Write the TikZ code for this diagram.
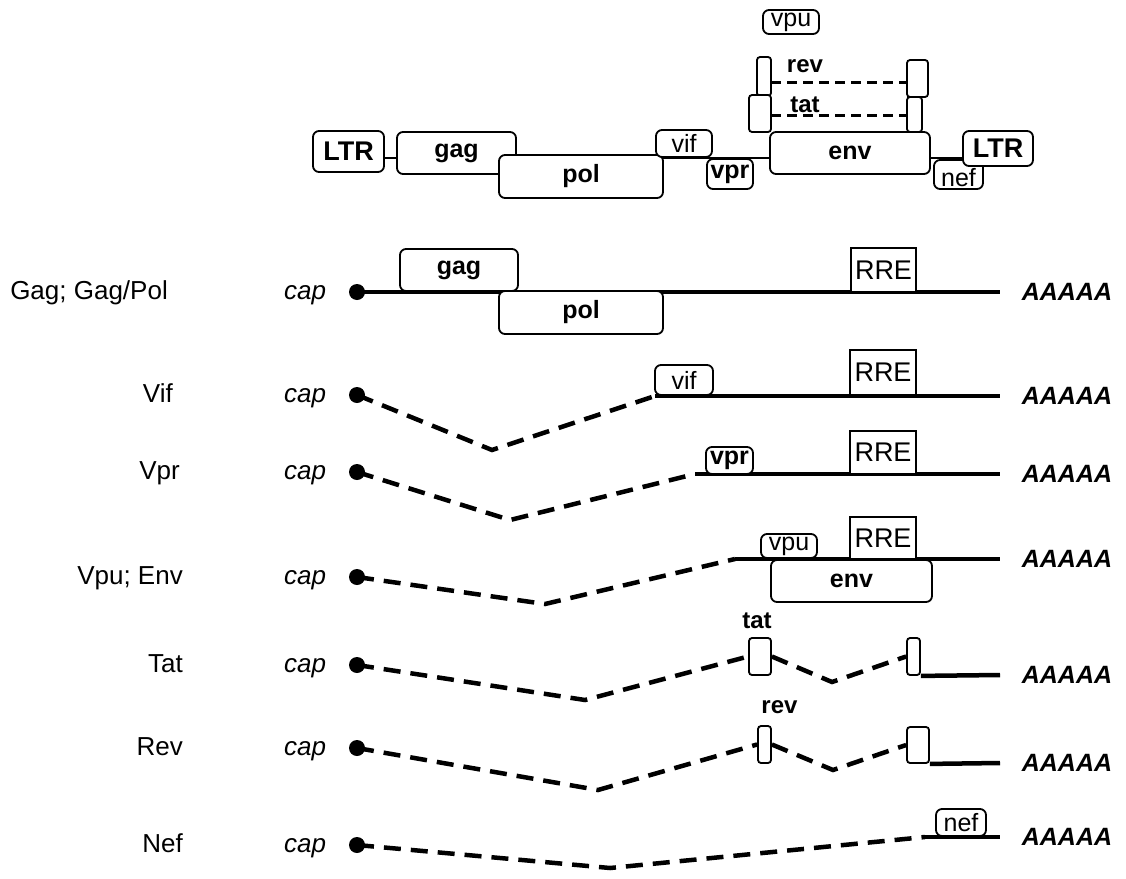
\documentclass[tikz,border=0pt]{standalone}
\usepackage{fontspec}
\setmainfont{Liberation Sans}
\usetikzlibrary{positioning}

\newcommand{\txtB}{\fontsize{25}{28}\selectfont\bfseries}
\newcommand{\txtR}{\fontsize{25}{28}\selectfont}
\newcommand{\txtLTR}{\fontsize{27}{30}\selectfont\bfseries}
\newcommand{\txtRRE}{\fontsize{27}{30}\selectfont}

% #1: extra options, #2: name, #3-#6: x1, y1, x2, y2 (pixels), #7: text
\newcommand{\genebox}[7][]{%
  \node[gene, #1, minimum width={(#5-#3)*1pt}, minimum height={(#6-#4)*1pt}]
    (#2) at ({(#3+#5)/2},{(#4+#6)/2}) {#7};}

\begin{document}
\begin{tikzpicture}[x=1pt, y=-1pt,
    gene/.style={draw, fill=white, rounded corners=6pt, line width=1.8pt, inner sep=0pt},
    exon/.style={rounded corners=3pt},
    backbone/.style={line width=2pt},
    mrna/.style={line width=4.5pt},
    intron/.style={line width=4.5pt, dash pattern=on 17pt off 10pt},
    topintron/.style={line width=3pt, dash pattern=on 10pt off 6pt},
    rowlab/.style={font=\fontsize{26}{28}\selectfont, anchor=base east, inner sep=0pt},
    captext/.style={font=\fontsize{26}{28}\selectfont\itshape, anchor=base, inner sep=0pt},
    polya/.style={font=\fontsize{25}{28}\selectfont\bfseries\itshape, inner sep=0pt},
    exlab/.style={font=\fontsize{24}{26}\selectfont\bfseries, inner sep=1pt}]

    \useasboundingbox (0,0) rectangle (1126,878);

    % =================================================================
    % 1. GENOME MAP
    % =================================================================
    \coordinate (bbL) at (384,158);
    \coordinate (bbR) at (963,158);
    \draw[backbone] (bbL) -- (bbR);

    \genebox[font=\txtLTR]{LTRl}{313}{131}{384}{172}{LTR}
    \genebox[font=\txtB]{gag}{397}{132}{516}{174}{gag}
    \genebox[font=\txtB]{pol}{499}{155}{663}{198}{pol}
    \genebox[font=\txtR]{vif}{656}{130}{712}{157}{vif}
    \genebox[font=\txtB]{vpr}{707}{159}{753}{189}{vpr}

    % tat / rev exons
    \genebox[exon]{revA}{757}{57}{771}{96}{}
    \genebox[exon]{tatA}{749}{95}{771}{132}{}
    \genebox[exon]{tatB}{907}{97}{922}{132}{}
    \genebox[exon]{revB}{907}{60}{928}{97}{}

    \genebox[font=\txtB]{env}{770}{132}{930}{174}{env}
    \genebox[font=\txtR]{nef}{934}{160}{983}{189}{\raisebox{-3pt}[0.7em][0pt]{nef}}
    \genebox[font=\txtLTR]{LTRr}{963}{131}{1033}{166}{LTR}
    \genebox[font=\txtR]{vpu}{763}{10}{819}{34}{vpu}

    % spliced-out parts between the exons
    \coordinate (revL) at (771,82);
    \coordinate (revR) at (907,82);
    \coordinate (tatL) at (771,115);
    \coordinate (tatR) at (907,115);
    \draw[topintron] (revL) -- (revR);
    \draw[topintron] (tatL) -- (tatR);
    \node[exlab, anchor=base] (revTop) at (805,72) {rev};
    \node[exlab, anchor=base] (tatTop) at (805,112) {tat};

    % =================================================================
    % 2. ROWS: LABEL, CAP, POLY-A
    % =================================================================
    \foreach \row/\lab/\lx/\yc/\ye in {gagpol/{Gag; Gag/Pol}/168/292/292,
        vif/Vif/173/395/396, vpr/Vpr/180/472/474, vpu/{Vpu; Env}/183/577/559,
        tat/Tat/183/665/675, rev/Rev/183/748/763, nef/Nef/183/845/837}{
        \node[rowlab] (lab-\row) at (\lx,\yc+7) {\lab};
        \node[captext] (capt-\row) at (305,\yc+7) {cap};
        \coordinate (cap-\row) at (357,\yc);
        \coordinate (end-\row) at (1000,\ye);
        \node[polya] (polyA-\row) at (1067,\ye) {AAAAA};
    }

    % =================================================================
    % 3. TRANSCRIPTS
    % =================================================================
    % Gag; Gag/Pol
    \draw[mrna] (cap-gagpol) -- (end-gagpol);
    \genebox[font=\txtB]{gagR}{400}{249}{518}{291}{gag}
    \genebox[font=\txtB]{polR}{499}{291}{663}{334}{pol}
    \genebox[sharp corners, font=\txtRRE]{rreA}{851}{248}{916}{292}{RRE}

    % Vif
    \coordinate (v-vif) at (492,450);
    \coordinate (st-vif) at (655,396);
    \draw[intron] (cap-vif) -- (v-vif) -- (st-vif);
    \draw[mrna] (st-vif) -- (end-vif);
    \genebox[font=\txtR]{vifR}{655}{365}{713}{395}{vif}
    \genebox[sharp corners, font=\txtRRE]{rreB}{850}{350}{916}{395}{RRE}

    % Vpr
    \coordinate (v-vpr) at (510,520);
    \coordinate (st-vpr) at (695,474);
    \draw[intron] (cap-vpr) -- (v-vpr) -- (st-vpr);
    \draw[mrna] (st-vpr) -- (end-vpr);
    \genebox[font=\txtB]{vprR}{706}{447}{753}{474}{vpr}
    \genebox[sharp corners, font=\txtRRE]{rreC}{850}{431}{916}{474}{RRE}

    % Vpu; Env
    \coordinate (v-vpu) at (545,604);
    \coordinate (st-vpu) at (735,559);
    \draw[intron] (cap-vpu) -- (v-vpu) -- (st-vpu);
    \draw[mrna] (st-vpu) -- (end-vpu);
    \genebox[font=\txtR]{vpuR}{761}{534}{817}{558}{vpu}
    \genebox[sharp corners, font=\txtRRE]{rreD}{850}{517}{916}{559}{RRE}
    \genebox[font=\txtB]{envR}{771}{560}{932}{602}{env}

    % Tat
    \genebox[exon]{tatR1}{749}{638}{771}{675}{}
    \genebox[exon]{tatR2}{907}{638}{920}{675}{}
    \coordinate (v-tat) at (585,700);
    \coordinate (v2-tat) at (832,682);
    \draw[intron] (cap-tat) -- (v-tat) -- (tatR1.west);
    \draw[intron] (tatR1.east) -- (v2-tat) -- (tatR2.west);
    \draw[mrna] (tatR2.south east) -- (end-tat);
    \node[exlab, above=7pt of tatR1, xshift=-3pt] (tatLab) {tat};

    % Rev
    \genebox[exon]{revR1}{758}{726}{771}{763}{}
    \genebox[exon]{revR2}{907}{727}{929}{763}{}
    \coordinate (v-rev) at (598,790);
    \coordinate (v2-rev) at (833,770);
    \draw[intron] (cap-rev) -- (v-rev) -- (revR1.west);
    \draw[intron] (revR1.east) -- (v2-rev) -- (revR2.west);
    \draw[mrna] (revR2.south east) -- (end-rev);
    \node[exlab, above=10pt of revR1, xshift=15pt] (revLab) {rev};

    % Nef
    \coordinate (v-nef) at (610,868);
    \coordinate (st-nef) at (925,837);
    \draw[intron] (cap-nef) -- (v-nef) -- (st-nef);
    \draw[mrna] (st-nef) -- (end-nef);
    \genebox[font=\txtR]{nefR}{936}{809}{986}{836}{nef}

    % cap dots
    \foreach \row in {gagpol,vif,vpr,vpu,tat,rev,nef}{
        \fill (cap-\row) circle (8pt);
    }

\end{tikzpicture}
\end{document}
